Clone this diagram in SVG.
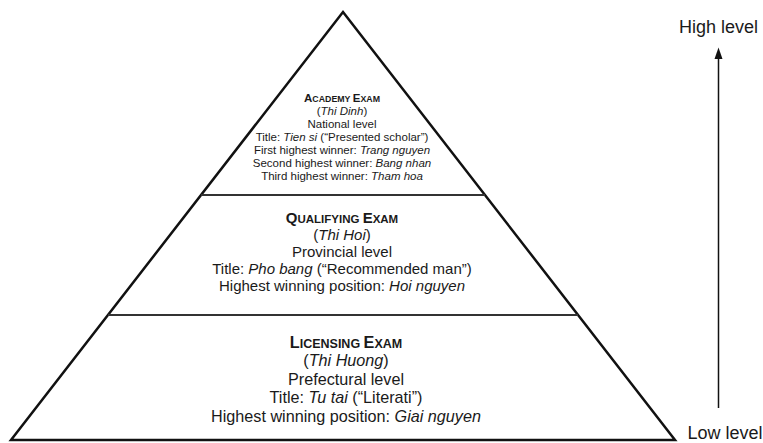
<svg xmlns="http://www.w3.org/2000/svg" width="763" height="443" viewBox="0 0 763 443">
<style>
text{font-family:"Liberation Sans",Arial,sans-serif;fill:#1a1a1a;text-anchor:middle}
.a{font-size:11.5px}.q{font-size:15px}.l{font-size:16.2px}
.b{font-weight:bold}.i{font-style:italic}
.side{font-size:18px}
.edge{fill:none;stroke:#111;stroke-width:2.5;stroke-linejoin:miter}
.div{stroke:#333;stroke-width:2.2}
</style>
<rect width="763" height="443" fill="#fff"/>
<g id="pyramid">
<polygon class="edge" points="343,12 675,440 11,440"/>
</g>
<g id="connectors">
<line class="div" x1="201" y1="195" x2="485" y2="195"/>
<line class="div" x1="108" y1="315" x2="578" y2="315"/>
<line x1="718.5" y1="408" x2="718.5" y2="57" stroke="#111" stroke-width="1.5"/>
<polygon points="718.5,47.5 714.5,59 722.5,59" fill="#111"/>
</g>
<g id="academy">
<text class="a b" x="342" y="101.7">A<tspan font-size="8.8">CADEMY </tspan>E<tspan font-size="8.8">XAM</tspan></text>
<text class="a" x="342" y="114.8">(<tspan class="i">Thi Dinh</tspan>)</text>
<text class="a" x="342" y="127.9">National level</text>
<text class="a" x="342" y="141">Title: <tspan class="i">Tien si</tspan> (“Presented scholar”)</text>
<text class="a" x="342" y="154.1">First highest winner: <tspan class="i">Trang nguyen</tspan></text>
<text class="a" x="342" y="167.2">Second highest winner: <tspan class="i">Bang nhan</tspan></text>
<text class="a" x="342" y="180.3">Third highest winner: <tspan class="i">Tham hoa</tspan></text>
</g>
<g id="qualifying">
<text class="q b" x="342" y="223">Q<tspan font-size="11.5">UALIFYING </tspan>E<tspan font-size="11.5">XAM</tspan></text>
<text class="q" x="342" y="240">(<tspan class="i">Thi Hoi</tspan>)</text>
<text class="q" x="342" y="257">Provincial level</text>
<text class="q" x="342" y="274">Title: <tspan class="i">Pho bang</tspan> (“Recommended man”)</text>
<text class="q" x="342" y="291">Highest winning position: <tspan class="i">Hoi nguyen</tspan></text>
</g>
<g id="licensing">
<text class="l b" x="346" y="347.5">L<tspan font-size="12.5">ICENSING </tspan>E<tspan font-size="12.5">XAM</tspan></text>
<text class="l" x="346" y="366">(<tspan class="i">Thi Huong</tspan>)</text>
<text class="l" x="346" y="384.5">Prefectural level</text>
<text class="l" x="346" y="403">Title: <tspan class="i">Tu tai</tspan> (“Literati”)</text>
<text class="l" x="346" y="421.5">Highest winning position: <tspan class="i">Giai nguyen</tspan></text>
</g>
<g id="high-level">
<text class="side" x="718.5" y="33">High level</text>
</g>
<g id="low-level">
<text class="side" x="725" y="438.5">Low level</text>
</g>
</svg>
